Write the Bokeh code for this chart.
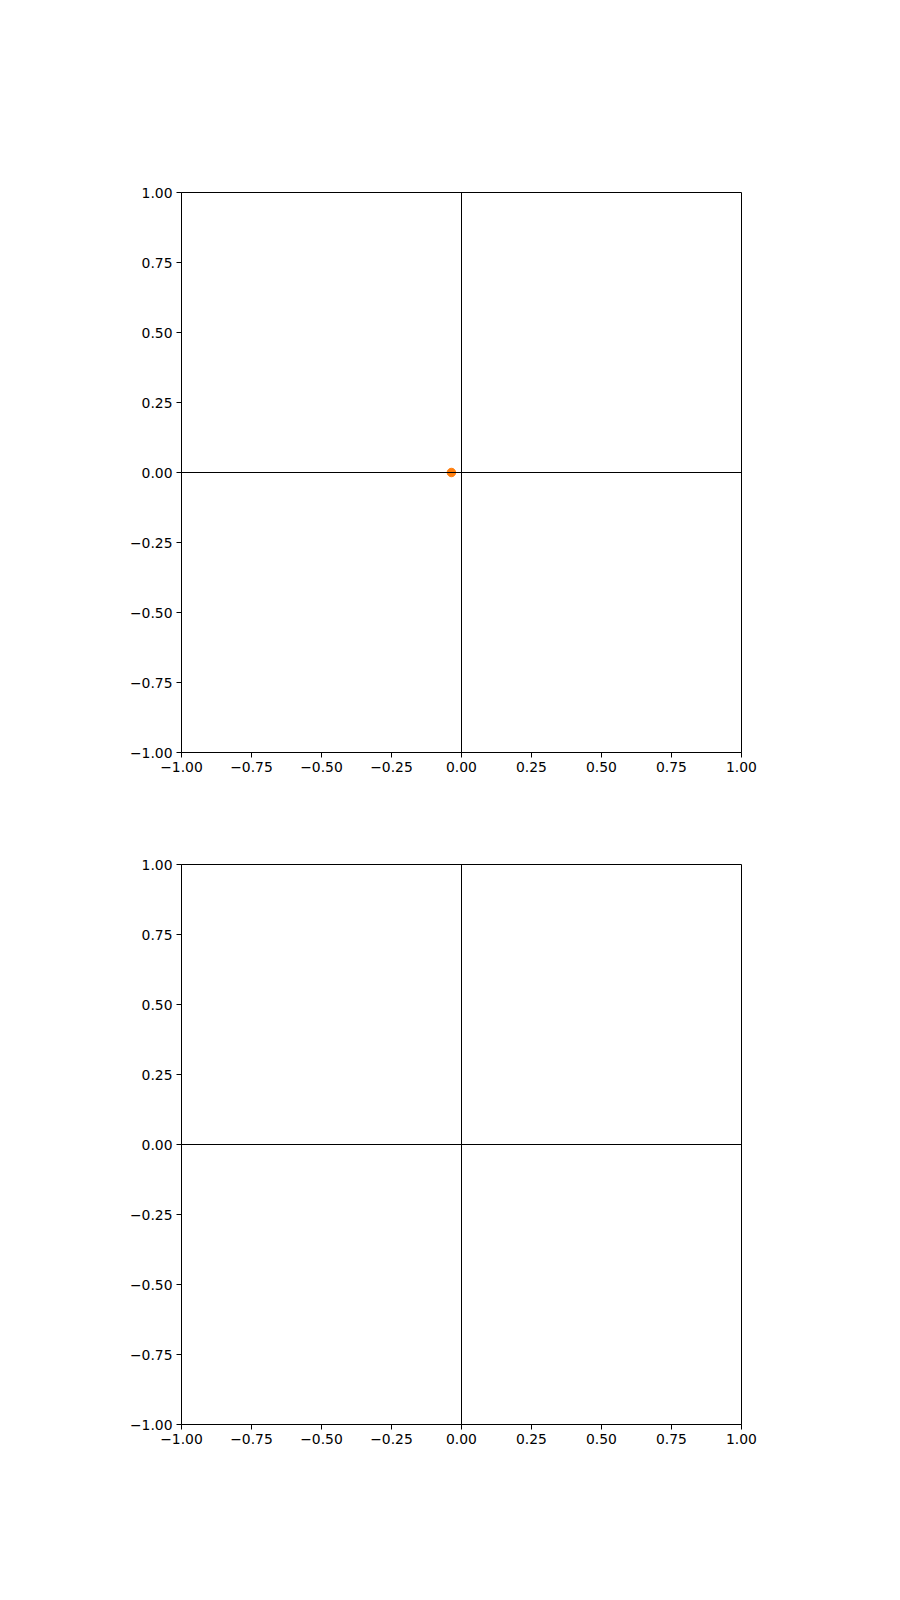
from bokeh.plotting import figure
from bokeh.layouts import column
from bokeh.models import FixedTicker, Span, Range1d
from bokeh.embed import file_html
from bokeh.resources import INLINE

# Data
tick_values = [-1.0, -0.75, -0.5, -0.25, 0.0, 0.25, 0.5, 0.75, 1.0]
tick_labels = ["\u22121.00", "\u22120.75", "\u22120.50", "\u22120.25", "0.00", "0.25", "0.50", "0.75", "1.00"]
point_x = [-0.036]
point_y = [0.0]
orange = "#ff7f0e"

FONT = "DejaVu Sans"
FSIZE = "13.9px"


def make_fig(top, bottom, with_point):
    p = figure(width=900, height=top + 560 + bottom, frame_width=560, frame_height=560,
               output_backend="svg", toolbar_location=None,
               x_range=Range1d(-1, 1), y_range=Range1d(-1, 1),
               min_border_left=181, min_border_right=159,
               min_border_top=top, min_border_bottom=bottom)
    p.xgrid.visible = False
    p.ygrid.visible = False
    p.outline_line_color = "black"
    p.outline_line_width = 1
    p.background_fill_color = "white"
    p.border_fill_color = "white"
    overrides = {v: l for v, l in zip(tick_values, tick_labels)}
    for ax in (p.xaxis[0], p.yaxis[0]):
        ax.ticker = FixedTicker(ticks=tick_values)
        ax.major_label_overrides = overrides
        ax.major_label_text_font = FONT
        ax.major_label_text_font_size = FSIZE
        ax.major_label_text_color = "black"
        ax.axis_line_color = "black"
        ax.axis_line_width = 1
        ax.major_tick_line_color = "black"
        ax.major_tick_line_width = 1
        ax.major_tick_out = 5
        ax.major_tick_in = 0
        ax.minor_tick_line_color = None
        ax.major_label_standoff = 4
    p.add_layout(Span(location=0, dimension="width", line_color="black", line_width=1))
    p.add_layout(Span(location=0, dimension="height", line_color="black", line_width=1))
    if with_point:
        p.scatter(point_x, point_y, size=8.5, color=orange, line_color=orange)
    return p


p1 = make_fig(192, 48, True)
p2 = make_fig(64, 176, False)
layout = column(p1, p2, spacing=0)

open("out.html", "w").write(file_html(layout, INLINE))
